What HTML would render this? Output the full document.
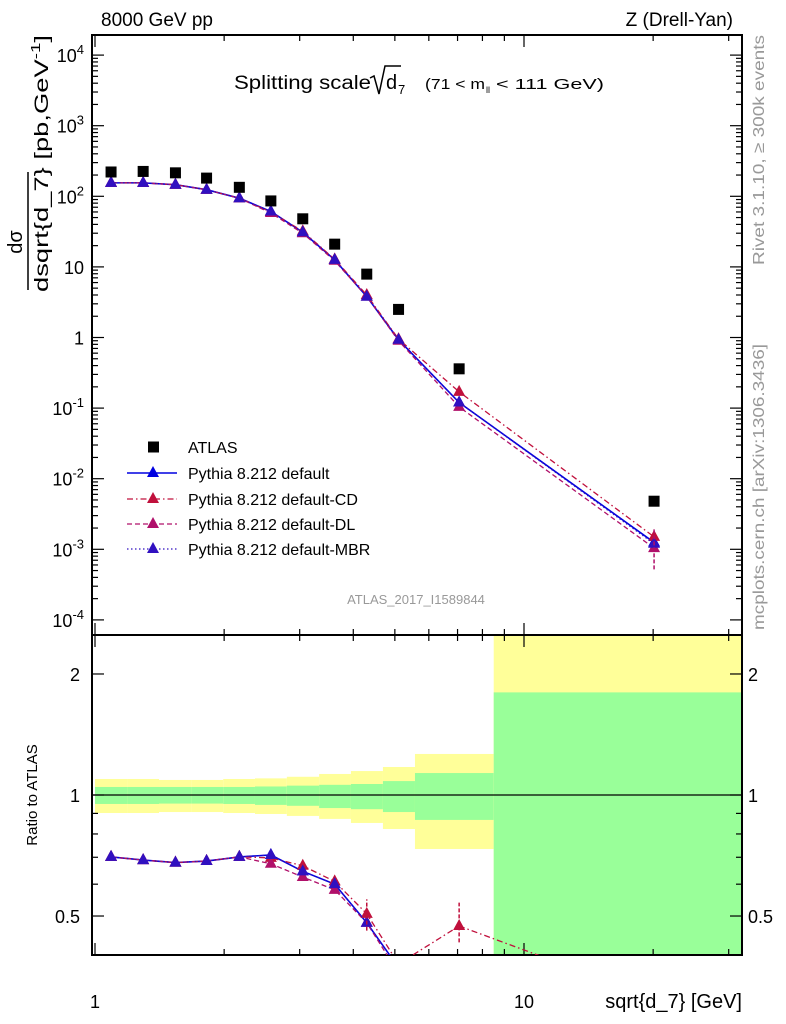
<!DOCTYPE html>
<html><head><meta charset="utf-8"><style>
html,body{margin:0;padding:0;background:#fff;}
svg{display:block;font-family:"Liberation Sans",sans-serif;}
</style></head><body>
<svg id="c" width="786" height="1024" viewBox="0 0 786 1024" xmlns="http://www.w3.org/2000/svg"></svg>
<script>
const categories=[1.09,1.295,1.54,1.82,2.17,2.57,3.05,3.62,4.30,5.10,7.06,20.1];
const binEdges=[1,1.19,1.41,1.68,1.99,2.36,2.8,3.33,3.95,4.69,5.57,8.5,32.3];
const atlas=[221,225,215,181,134,86,48,21,7.9,2.5,0.36,0.0048];
const pyDefault=[155,155,146,124,94,61,31,12.6,3.8,0.93,0.12,0.00125];
const pyCD=[155,155,146,124,94,60,32,12.8,4.0,0.95,0.17,0.0015];
const pyDL=[155,155,146,124,94,58,30,12.2,3.8,0.9,0.104,0.00104];
const pyMBR=[155,155,146,124,94,61,31,12.6,3.8,0.93,0.12,0.0012];
const yellowHi=[1.096,1.096,1.09,1.09,1.096,1.10,1.11,1.128,1.147,1.174,1.265,3.0];
const yellowLo=[0.902,0.902,0.907,0.907,0.902,0.897,0.887,0.872,0.852,0.823,0.734,0.3];
const greenHi=[1.047,1.047,1.047,1.047,1.047,1.05,1.055,1.06,1.065,1.083,1.134,1.8];
const greenLo=[0.95,0.95,0.952,0.952,0.95,0.945,0.94,0.928,0.922,0.907,0.867,0.3];
const mainTicks=["10^4","10^3","10^2","10","1","10^-1","10^-2","10^-3","10^-4"];
const ratioTicks=[2,1,0.5];

const NS="http://www.w3.org/2000/svg";
const svg=document.getElementById('c');
const L=92,R=742,T=35,MID=635,B=955;
const X=v=>95+429*Math.log10(v);
const Y=v=>337.5-70.6*Math.log10(v);
const YR=v=>795-402*Math.log10(v);
function el(tag,a,parent){const e=document.createElementNS(NS,tag);for(const k in a)e.setAttribute(k,a[k]);(parent||svg).appendChild(e);return e;}
function txt(s,a,parent){const e=el('text',a,parent);e.textContent=s;return e;}

const defs=el('defs',{});
const c1=el('clipPath',{id:'cm'},defs);el('rect',{x:L,y:T,width:R-L,height:MID-T},c1);
const c2=el('clipPath',{id:'cr'},defs);el('rect',{x:L,y:MID,width:R-L,height:B-MID},c2);

const bands=el('g',{'clip-path':'url(#cr)'});


for(let i=0;i<categories.length;i++){
  const x0=X(binEdges[i]),x1=X(binEdges[i+1]);
  const y=el('rect',{x:x0,y:YR(yellowHi[i]),width:x1-x0,height:YR(yellowLo[i])-YR(yellowHi[i]),fill:'#ffff99'},bands);
  
  
  const g=el('rect',{x:x0,y:YR(greenHi[i]),width:x1-x0,height:YR(greenLo[i])-YR(greenHi[i]),fill:'#99ff99'},bands);
  
  
}
el('line',{x1:L,x2:R,y1:YR(1),y2:YR(1),stroke:'#000','stroke-width':1.2});

el('rect',{x:L,y:T,width:R-L,height:MID-T,fill:'none',stroke:'#000','stroke-width':2});
el('rect',{x:L,y:MID,width:R-L,height:B-MID,fill:'none',stroke:'#000','stroke-width':2});

const ax=el('g',{stroke:'#000','stroke-width':1.2});
for(let d=1;d<=30;d+= (d<10?1:10)){
  const x=X(d); if(x<L||x>R) continue;
  const len=(d===1||d===10)?12:6;
  el('line',{x1:x,x2:x,y1:T,y2:T+len},ax);
  el('line',{x1:x,x2:x,y1:MID-len,y2:MID+len},ax);
  el('line',{x1:x,x2:x,y1:B,y2:B-len},ax);
}
for(let e=-4;e<=4;e++){
  for(let m=1;m<10;m++){
    const y=Y(m*Math.pow(10,e)); if(y<T||y>MID) continue;
    const len=m===1?12:6;
    el('line',{x1:L,x2:L+len,y1:y,y2:y},ax);
    el('line',{x1:R,x2:R-len,y1:y,y2:y},ax);
  }
}
for(const v of [0.4,0.5,0.6,0.7,0.8,0.9,1,2]){
  const y=YR(v); const len=[0.5,1,2].includes(v)?12:6;
  el('line',{x1:L,x2:L+len,y1:y,y2:y},ax);
  el('line',{x1:R,x2:R-len,y1:y,y2:y},ax);
}
mainTicks.forEach((s,i)=>{
  const e=4-i, y=Y(Math.pow(10,e))+7;
  const t=el('text',{x:84,y:y,'text-anchor':'end','font-size':18});
  
  
  if(s.indexOf('^')>=0){const [b,p]=s.split('^');
    const a=el('tspan',{},t);a.textContent=b;
    const sp=el('tspan',{dy:-8,'font-size':13},t);sp.textContent=p;}
  else t.textContent=s;
});
ratioTicks.forEach(v=>{
  const y=YR(v)+7;
  const a=txt(String(v),{x:80,y:y,'text-anchor':'end','font-size':18});
  
  
  const b=txt(String(v),{x:748,y:y,'font-size':18});
  
  
});
txt('1',{x:95,y:1008,'text-anchor':'middle','font-size':18});
txt('10',{x:524,y:1008,'text-anchor':'middle','font-size':18});

const series=[
 {name:'default',d:pyDefault,c:'#0000e0',dash:'',w:1.6},
 {name:'default-cd',d:pyCD,c:'#c0103c',dash:'6,3,1.5,3',w:1.3},
 {name:'default-dl',d:pyDL,c:'#b0106a',dash:'5,3',w:1.3},
 {name:'default-mbr',d:pyMBR,c:'#3010c0',dash:'1.5,2.5',w:1.3}
];
function tri(g,x,y,c){el('path',{d:`M${x},${y-7}L${x+6},${y+4}L${x-6},${y+4}Z`,fill:c},g);}
const gm=el('g',{'clip-path':'url(#cm)'});
const gr=el('g',{'clip-path':'url(#cr)'});
series.forEach(s=>{
  const g=el('g',{},gm);
  
  
  el('polyline',{points:categories.map((v,i)=>X(v)+','+Y(s.d[i])).join(' '),fill:'none',stroke:s.c,'stroke-width':s.w,'stroke-dasharray':s.dash},g);
  categories.forEach((v,i)=>tri(g,X(v),Y(s.d[i]),s.c));
  const gg=el('g',{},gr);
  
  
  el('polyline',{points:categories.map((v,i)=>X(v)+','+YR(s.d[i]/atlas[i])).join(' '),fill:'none',stroke:s.c,'stroke-width':s.w,'stroke-dasharray':s.dash},gg);
  categories.forEach((v,i)=>tri(gg,X(v),YR(s.d[i]/atlas[i]),s.c));
});
const lastI=categories.length-1;
el('line',{x1:X(categories[lastI]),x2:X(categories[lastI]),y1:Y(pyDL[lastI]*0.5),y2:Y(pyCD[lastI]*1.35),stroke:'#b0106a','stroke-width':1.5,'stroke-dasharray':'4,2'},gm);
el('line',{x1:X(categories[8]),x2:X(categories[8]),y1:YR(0.46),y2:YR(0.55),stroke:'#c0103c','stroke-width':1.5,'stroke-dasharray':'4,2'},gr);
el('line',{x1:X(categories[10]),x2:X(categories[10]),y1:YR(0.43),y2:YR(0.54),stroke:'#c0103c','stroke-width':1.5,'stroke-dasharray':'4,2'},gr);
const ga=el('g',{'clip-path':'url(#cm)'});


categories.forEach((v,i)=>el('rect',{x:X(v)-5.5,y:Y(atlas[i])-5.5,width:11,height:11,fill:'#000'},ga));

const leg=[['ATLAS',null],['Pythia 8.212 default',series[0]],['Pythia 8.212 default-CD',series[1]],['Pythia 8.212 default-DL',series[2]],['Pythia 8.212 default-MBR',series[3]]];
const ys=[447,473,499,524,549];
leg.forEach((l,i)=>{
  const g=el('g',{});
  
  
  const y=ys[i];
  if(!l[1]) el('rect',{x:148,y:y-5.5,width:11,height:11,fill:'#000'},g);
  else{el('line',{x1:127,x2:177,y1:y,y2:y,stroke:l[1].c,'stroke-width':l[1].w,'stroke-dasharray':l[1].dash},g);tri(g,153,y,l[1].c);}
  txt(l[0],{x:188,y:y+6,'font-size':16},g);
});

const t1=txt('8000 GeV pp',{x:101,y:26,'font-size':19});
const t2=txt('Z (Drell-Yan)',{x:733,y:26,'text-anchor':'end','font-size':19});

// plot title
const tg=el('g',{});


txt('Splitting scale',{x:234,y:89,'font-size':19,textLength:137,lengthAdjust:'spacingAndGlyphs'},tg);
el('path',{d:'M370,78 L374,76 L379,94 L385,66 L401,66',fill:'none',stroke:'#000','stroke-width':1.5},tg);
txt('d',{x:386,y:89,'font-size':20},tg);
txt('7',{x:398,y:94,'font-size':13},tg);
txt('(71 < m',{x:425,y:89,'font-size':15,textLength:60,lengthAdjust:'spacingAndGlyphs'},tg);
txt('ll',{x:486,y:93,'font-size':9},tg);
txt('< 111 GeV)',{x:496,y:89,'font-size':15,textLength:108,lengthAdjust:'spacingAndGlyphs'},tg);

// y axis title
const yg=el('g',{transform:'translate(0,292) rotate(-90)'});


txt('dσ',{x:50,y:22,'text-anchor':'middle','font-size':20},yg);
el('line',{x1:2,x2:120,y1:28,y2:28,stroke:'#000','stroke-width':1.5},yg);
const den=el('text',{x:0,y:48,'font-size':19,textLength:257,lengthAdjust:'spacingAndGlyphs'},yg);
den.innerHTML='dsqrt{d_7} [pb,GeV<tspan dy="-8" font-size="13">-1</tspan><tspan dy="8">]</tspan>';

const rl=txt('Ratio to ATLAS',{transform:'translate(37,795) rotate(-90)','text-anchor':'middle','font-size':15});

const xl=txt('sqrt{d_7} [GeV]',{x:742,y:1008,'text-anchor':'end','font-size':20});

const an=txt('ATLAS_2017_I1589844',{x:416,y:604,'text-anchor':'middle','font-size':13,fill:'#999'});

const rv=txt('Rivet 3.1.10, ≥ 300k events',{transform:'translate(764,150) rotate(-90)','text-anchor':'middle','font-size':16,fill:'#999',textLength:230,lengthAdjust:'spacingAndGlyphs'});

const mc=txt('mcplots.cern.ch [arXiv:1306.3436]',{transform:'translate(764,487) rotate(-90)','text-anchor':'middle','font-size':16,fill:'#999',textLength:286,lengthAdjust:'spacingAndGlyphs'});

</script>
</body></html>
